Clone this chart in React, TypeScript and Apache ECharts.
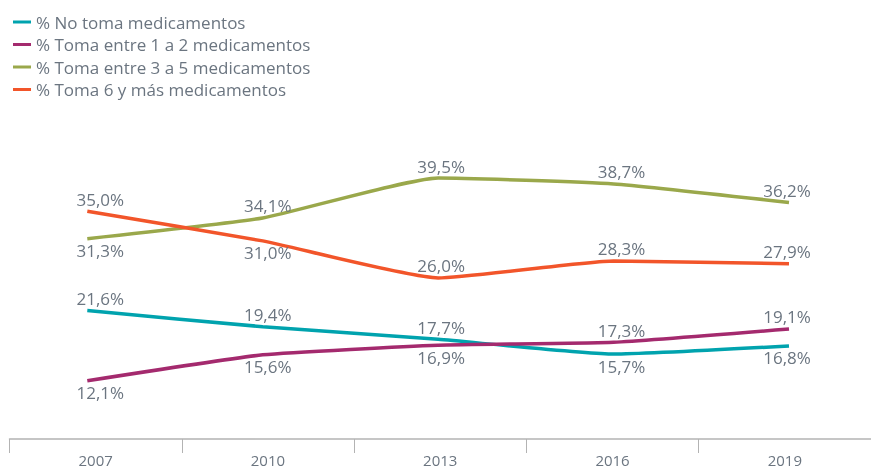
import React, { useEffect, useRef } from "react";
import * as echarts from "echarts";

const years = ["2007", "2010", "2013", "2016", "2019"];
const noToma = [21.6, 19.4, 17.7, 15.7, 16.8];
const toma1a2 = [12.1, 15.6, 16.9, 17.3, 19.1];
const toma3a5 = [31.3, 34.1, 39.5, 38.7, 36.2];
const toma6mas = [35.0, 31.0, 26.0, 28.3, 27.9];

const seriesNames = [
  "% No toma medicamentos",
  "% Toma entre 1 a 2 medicamentos",
  "% Toma entre 3 a 5 medicamentos",
  "% Toma 6 y más medicamentos",
];
const seriesColors = ["#00A3AE", "#A42A6E", "#9AA84B", "#F2552A"];
// label side per point: 1 = above, -1 = below
const labelSides = [
  [1, 1, 1, -1, -1],
  [-1, -1, -1, 1, 1],
  [-1, 1, 1, 1, 1],
  [1, -1, 1, 1, 1],
];
const labelDx = [13, 5, 3, 8, -2];

const TEXT = "#6B7580";
const FONT = "'Open Sans', 'Noto Sans', sans-serif";

export default function App() {
  const ref = useRef<HTMLDivElement>(null);
  useEffect(() => {
    if (!ref.current) return;
    const chart = echarts.init(ref.current, undefined, { renderer: "svg" });
    const allData = [noToma, toma1a2, toma3a5, toma6mas];
    const series = allData.map((vals, si) => ({
      name: seriesNames[si],
      type: "line",
      xAxisIndex: 1,
      yAxisIndex: 1,
      smooth: 0.15,
      symbol: "circle",
      symbolSize: 1,
      showSymbol: true,
      itemStyle: { color: "rgba(0,0,0,0)" },
      lineStyle: { color: seriesColors[si], width: 3.5 },
      z: 3,
      data: vals.map((v, i) => ({
        value: v,
        label: {
          show: true,
          position: "inside",
          offset: [labelDx[i], labelSides[si][i] > 0 ? -12 : 12],
          formatter: (p: any) => p.value.toFixed(1).replace(".", ",") + "%",
          color: TEXT,
          fontSize: 17,
          fontFamily: FONT,
        },
      })),
    }));
    chart.setOption({
      animation: false,
      legend: {
        orient: "vertical",
        left: 8,
        top: 7,
        icon: "rect",
        itemWidth: 18,
        itemHeight: 3,
        itemGap: 2.5,
        textStyle: { color: TEXT, fontSize: 17, fontFamily: FONT, lineHeight: 20 },
        data: seriesNames.map((n, i) => ({ name: n, itemStyle: { color: seriesColors[i], opacity: 1 } })),
      },
      grid: [
        { left: 9.5, width: 868.5, top: 137, bottom: 31 },
        { left: 87.3, width: 701.7, top: 137.3, height: 296 },
      ],
      xAxis: [
        {
          gridIndex: 0,
          type: "category",
          data: years,
          boundaryGap: true,
          axisLine: { lineStyle: { color: "#B3B3B3", width: 1.5 } },
          axisTick: { show: true, length: 14, interval: 0, lineStyle: { color: "#B3B3B3", width: 1 } },
          axisLabel: { color: TEXT, fontSize: 15, fontFamily: FONT, margin: 13 },
        },
        {
          gridIndex: 1,
          type: "category",
          data: years,
          boundaryGap: false,
          show: false,
        },
      ],
      yAxis: [
        { gridIndex: 0, type: "value", show: false, min: 5, max: 45 },
        { gridIndex: 1, type: "value", show: false, min: 5, max: 45, splitLine: { show: false } },
      ],
      series,
    });
    return () => chart.dispose();
  }, []);
  return (
    <div
      ref={ref}
      style={{ position: "fixed", left: 0, top: 0, width: 871, height: 470 }}
    />
  );
}
